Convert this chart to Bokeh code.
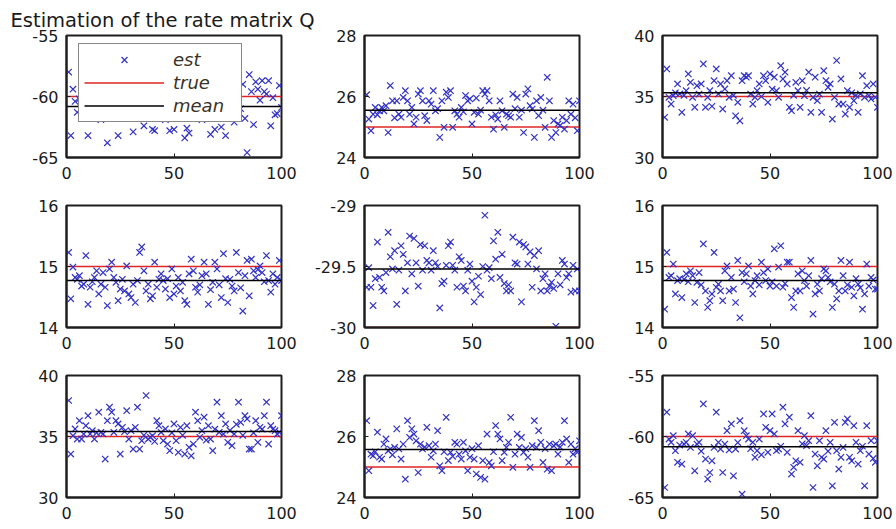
from bokeh.plotting import figure
from bokeh.models import FixedTicker, LinearAxis, Legend
from bokeh.layouts import column, row
from bokeh.embed import file_html
from bokeh.resources import INLINE

# ---------------- data ----------------
title_text = "Estimation of the rate matrix Q"
legend_labels = ["est", "true", "mean"]

x_idx = list(range(1, 101))
x_lim = [0, 100]
x_ticks = [0, 50, 100]

est_11 = [-58.0, -63.2, -59.4, -60.4, -61.3, -60.2, -61.5, -59.8, -60.9, -63.2,
          -61.8, -60.5, -59.3, -61.1, -60.0, -61.9, -60.6, -59.9, -63.8, -61.2,
          -60.4, -59.6, -61.7, -63.2, -60.8, -61.4, -59.2, -60.1, -61.6, -60.7,
          -62.9, -59.9, -61.0, -60.3, -61.8, -62.4, -60.5, -59.5, -61.3, -62.7,
          -62.8, -60.2, -61.5, -59.8, -60.9, -61.9, -60.4, -62.8, -61.1, -62.7,
          -60.0, -59.4, -61.7, -60.6, -63.4, -62.6, -63.0, -61.2, -60.1, -59.7,
          -61.4, -60.8, -61.9, -60.3, -59.6, -61.0, -63.1, -60.6, -62.7, -61.5,
          -60.2, -62.5, -59.9, -63.2, -61.3, -60.7, -61.8, -62.1, -60.4, -59.5,
          -61.0, -59.0, -61.8, -64.6, -58.2, -59.6, -62.3, -58.8, -59.4, -60.3,
          -58.7, -59.6, -59.8, -58.7, -62.4, -60.1, -61.5, -61.4, -59.1, -60.9]

est_12 = [26.06, 25.26, 24.88, 25.42, 25.64, 25.40, 25.53, 25.64, 25.53, 25.70,
          24.82, 26.36, 25.86, 25.30, 25.86, 25.42, 25.32, 25.97, 26.19, 25.86,
          25.42, 25.64, 25.10, 25.32, 26.08, 26.19, 25.86, 25.37, 25.21, 25.86,
          25.75, 26.19, 25.53, 25.60, 24.66, 25.86, 24.99, 26.14, 25.97, 26.19,
          24.99, 25.53, 25.42, 25.32, 25.64, 25.50, 26.03, 25.86, 25.92, 25.10,
          25.48, 25.95, 25.42, 25.55, 26.19, 26.08, 26.19, 25.86, 25.32, 24.93,
          25.40, 25.26, 25.86, 25.53, 24.99, 25.42, 25.37, 25.32, 26.08, 25.60,
          25.97, 25.32, 25.55, 24.82, 26.08, 26.25, 25.70, 25.59, 24.66, 25.86,
          25.37, 25.97, 25.55, 24.99, 26.63, 25.86, 24.66, 25.21, 24.82, 25.10,
          25.05, 25.32, 24.93, 25.21, 25.86, 25.42, 25.75, 25.30, 24.88, 25.86]

est_13 = [33.29, 37.26, 34.93, 34.38, 35.07, 35.30, 36.03, 35.21, 33.70, 35.10,
          35.48, 36.85, 36.16, 34.93, 34.11, 35.89, 35.20, 36.03, 37.67, 34.11,
          34.93, 35.48, 34.20, 36.30, 37.26, 35.21, 36.03, 33.97, 35.62, 36.30,
          34.93, 36.71, 35.10, 33.42, 34.52, 33.01, 36.30, 36.71, 36.58, 36.71,
          35.20, 34.38, 34.93, 35.48, 36.03, 35.00, 36.71, 36.30, 34.52, 36.85,
          35.60, 36.58, 35.48, 34.93, 37.53, 36.44, 36.99, 36.03, 34.11, 33.84,
          35.10, 36.16, 35.48, 34.11, 36.30, 35.07, 35.50, 36.99, 33.70, 34.93,
          36.58, 34.66, 35.20, 33.70, 37.12, 36.30, 35.75, 36.03, 33.15, 34.93,
          37.95, 34.38, 36.44, 34.38, 33.56, 35.48, 34.11, 35.30, 34.66, 35.10,
          33.70, 35.21, 36.71, 34.93, 35.89, 35.07, 34.80, 36.03, 34.93, 34.11]

est_21 = [15.23, 14.47, 14.99, 14.82, 14.79, 14.85, 14.68, 14.71, 15.18, 14.38,
          14.66, 14.75, 14.82, 14.93, 14.55, 14.71, 14.90, 14.66, 14.36, 14.96,
          15.07, 14.82, 14.74, 14.44, 14.63, 14.79, 14.60, 15.01, 14.55, 14.49,
          14.71, 14.41, 14.77, 15.23, 15.32, 14.93, 14.60, 14.71, 14.47, 14.52,
          15.07, 14.66, 14.79, 14.88, 14.77, 14.63, 14.80, 14.49, 14.96, 14.55,
          14.68, 14.82, 14.60, 14.74, 14.44, 14.38, 14.88, 15.12, 14.93, 14.66,
          14.58, 14.70, 14.85, 15.07, 14.88, 14.38, 14.62, 14.74, 15.07, 14.96,
          14.70, 14.49, 15.21, 14.80, 14.41, 14.79, 14.68, 14.60, 15.23, 14.90,
          14.65, 14.27, 14.85, 15.10, 14.52, 15.12, 14.93, 14.82, 14.95, 15.01,
          14.90, 14.75, 15.18, 14.77, 14.58, 14.88, 14.71, 14.82, 15.10, 14.77]

est_22 = [-29.67, -29.51, -29.67, -29.82, -29.60, -29.30, -29.59, -29.67, -29.70, -29.55,
          -29.22, -29.42, -29.52, -29.37, -29.81, -29.53, -29.33, -29.40, -29.70, -29.47,
          -29.25, -29.56, -29.27, -29.47, -29.66, -29.32, -29.53, -29.33, -29.45, -29.47,
          -29.53, -29.37, -29.47, -29.50, -29.84, -29.64, -29.62, -29.49, -29.33, -29.30,
          -29.49, -29.53, -29.67, -29.42, -29.45, -29.66, -29.70, -29.53, -29.48, -29.62,
          -29.79, -29.67, -29.58, -29.73, -29.50, -29.08, -29.53, -29.51, -29.60, -29.29,
          -29.44, -29.22, -29.59, -29.40, -29.64, -29.70, -29.65, -29.70, -29.26, -29.47,
          -29.48, -29.30, -29.79, -29.32, -29.34, -29.48, -29.38, -29.67, -29.41, -29.52,
          -29.37, -29.70, -29.60, -29.56, -29.70, -29.66, -29.63, -29.68, -29.99, -29.56,
          -29.65, -29.45, -29.48, -29.59, -29.56, -29.71, -29.49, -29.70, -29.52, -29.70]

est_23 = [14.30, 15.23, 14.82, 14.85, 15.04, 14.55, 14.77, 14.80, 14.49, 14.79,
          14.88, 14.75, 14.93, 14.85, 14.41, 14.74, 14.90, 14.70, 15.37, 14.60,
          14.33, 14.44, 14.55, 15.23, 14.66, 14.71, 14.60, 14.44, 14.93, 15.01,
          14.60, 14.82, 14.63, 14.41, 15.10, 14.16, 14.90, 14.75, 14.88, 15.01,
          14.68, 14.55, 14.77, 14.85, 14.70, 15.07, 14.90, 14.77, 14.96, 14.68,
          14.75, 15.29, 14.68, 14.99, 15.34, 14.66, 14.72, 15.07, 15.07, 14.49,
          14.33, 14.60, 14.88, 14.60, 14.93, 14.77, 14.68, 14.85, 15.10, 14.22,
          14.55, 14.71, 14.60, 14.80, 14.96, 14.93, 14.82, 14.75, 14.33, 14.71,
          14.47, 14.60, 15.10, 14.85, 14.60, 14.70, 15.07, 14.66, 14.52, 14.80,
          14.71, 14.65, 14.30, 14.55, 15.04, 14.68, 14.82, 14.78, 14.63, 14.63]

est_31 = [37.95, 33.56, 35.07, 35.62, 34.79, 36.30, 34.79, 35.20, 35.89, 36.71,
          35.21, 35.48, 34.79, 35.30, 36.99, 35.34, 35.21, 33.15, 36.30, 37.40,
          36.99, 35.34, 36.30, 36.03, 33.56, 35.75, 35.40, 37.12, 34.79, 35.48,
          33.97, 35.75, 37.40, 33.97, 34.66, 35.10, 38.36, 34.79, 34.93, 35.07,
          34.60, 36.30, 35.89, 35.34, 34.66, 35.62, 34.38, 33.84, 35.30, 36.03,
          34.66, 33.70, 35.75, 35.10, 33.56, 35.89, 34.11, 33.42, 34.38, 36.99,
          36.30, 34.93, 35.48, 36.58, 34.70, 35.89, 34.79, 33.84, 35.60, 37.81,
          35.34, 36.71, 35.20, 36.03, 34.52, 35.50, 34.25, 35.21, 36.00, 37.81,
          36.16, 35.10, 36.71, 36.44, 33.97, 33.97, 35.30, 36.30, 34.52, 35.75,
          35.60, 36.71, 37.81, 34.38, 35.89, 35.60, 35.48, 35.20, 35.34, 36.71]

est_32 = [26.52, 24.88, 25.42, 25.37, 25.50, 26.14, 25.32, 25.26, 25.75, 25.92,
          25.53, 25.59, 25.40, 25.64, 26.25, 25.59, 25.26, 25.75, 24.60, 26.52,
          25.97, 26.25, 26.08, 25.86, 24.82, 25.75, 25.59, 25.65, 26.30, 25.70,
          25.32, 25.53, 25.75, 26.19, 25.04, 24.88, 25.50, 26.63, 25.21, 25.48,
          25.35, 25.81, 25.75, 25.42, 25.26, 25.81, 25.53, 24.88, 25.32, 25.60,
          25.26, 24.77, 25.70, 24.66, 25.21, 24.60, 26.08, 25.15, 25.04, 25.50,
          26.36, 26.08, 25.92, 25.21, 25.48, 25.64, 25.81, 26.63, 24.99, 25.42,
          26.08, 25.64, 25.97, 25.48, 25.60, 25.32, 24.99, 25.70, 26.52, 25.64,
          26.19, 25.81, 25.15, 25.60, 24.93, 25.75, 24.88, 25.70, 25.75, 25.42,
          25.65, 25.81, 26.52, 25.92, 25.15, 25.75, 25.42, 25.60, 25.48, 25.86]

est_33 = [-64.18, -58.01, -60.21, -60.48, -59.93, -61.16, -62.12, -60.70, -62.26, -60.62,
          -60.48, -59.79, -60.90, -59.93, -62.81, -60.62, -60.48, -61.20, -57.33, -61.85,
          -63.49, -62.95, -61.99, -60.90, -58.01, -60.48, -61.03, -62.95, -60.62, -59.52,
          -61.10, -58.97, -63.22, -61.03, -60.50, -58.70, -64.73, -59.52, -59.93, -60.21,
          -61.00, -60.48, -61.71, -61.16, -60.21, -61.50, -58.15, -59.25, -61.30, -59.52,
          -58.15, -59.79, -61.16, -61.03, -60.80, -57.60, -58.97, -61.30, -58.42, -63.08,
          -62.53, -61.99, -59.52, -62.12, -60.60, -59.93, -60.75, -60.34, -58.29, -64.18,
          -61.44, -62.40, -60.34, -61.71, -61.85, -59.52, -61.20, -60.48, -64.04, -58.84,
          -61.16, -62.67, -61.71, -60.90, -58.84, -58.56, -61.71, -62.00, -59.11, -60.48,
          -62.26, -61.16, -60.80, -64.04, -59.11, -61.44, -60.34, -61.80, -62.12, -60.34]

est_all = [est_11, est_12, est_13, est_21, est_22, est_23, est_31, est_32, est_33]
true_vals = [-60, 25, 35, 15, -30, 15, 35, 25, -60]
mean_vals = [-60.82, 25.55, 35.30, 14.77, -29.52, 14.77, 35.42, 25.57, -60.85]
y_lims = [(-65, -55), (24, 28), (30, 40), (14, 16), (-30, -29), (14, 16),
          (30, 40), (24, 28), (-65, -55)]
y_ticks = [[-65, -60, -55], [24, 26, 28], [30, 35, 40], [14, 15, 16], [-30, -29.5, -29],
           [14, 15, 16], [30, 35, 40], [24, 26, 28], [-65, -60, -55]]
y_tick_labels = [["-65", "-60", "-55"], ["24", "26", "28"], ["30", "35", "40"],
                 ["14", "15", "16"], ["-30", "-29.5", "-29"], ["14", "15", "16"],
                 ["30", "35", "40"], ["24", "26", "28"], ["-65", "-60", "-55"]]

# ---------------- style ----------------
FONT = "DejaVu Sans"
BLUE = "#3232c8"
RED = "#e02525"
BLACK = "#000000"
AX = "#1e1e1e"
TXT = "#1a1a1a"
FRAME_W = 215
FRAME_H = 122
BOTTOM = 30


def style_axis(ax, ticks, labels=None):
    ax.ticker = FixedTicker(ticks=ticks)
    ax.major_tick_in = 4
    ax.major_tick_out = 0
    ax.minor_tick_line_color = None
    ax.axis_line_color = AX
    ax.axis_line_width = 2
    ax.major_tick_line_color = AX
    ax.major_tick_line_width = 1
    ax.major_label_text_font = FONT
    ax.major_label_text_font_size = "16px"
    ax.major_label_text_color = TXT
    if labels is not None:
        ax.major_label_overrides = {t: l for t, l in zip(ticks, labels)}


def make_panel(k, top_border, left_border=66, right_border=17):
    h = top_border + FRAME_H + BOTTOM
    w = left_border + FRAME_W + right_border
    p = figure(width=w, height=h, x_range=(x_lim[0], x_lim[1]), y_range=y_lims[k],
               toolbar_location=None, output_backend="svg",
               x_axis_type=None, y_axis_type=None,
               min_border_left=left_border, min_border_right=right_border,
               min_border_top=top_border, min_border_bottom=BOTTOM)
    p.outline_line_color = AX
    p.outline_line_width = 2
    p.background_fill_color = "white"
    p.border_fill_color = "white"

    xb = LinearAxis()
    style_axis(xb, x_ticks)
    xb.major_label_standoff = 9
    p.add_layout(xb, "below")

    yl = LinearAxis()
    style_axis(yl, y_ticks[k], y_tick_labels[k])
    yl.major_label_standoff = 8
    p.add_layout(yl, "left")

    r_true = p.line(x_lim, [true_vals[k]] * 2, line_color=RED, line_width=1.5,
                    level="underlay")
    r_est = p.scatter(x_idx, est_all[k], marker="x", size=9, line_color=BLUE,
                      line_width=1.2)
    r_mean = p.line(x_lim, [mean_vals[k]] * 2, line_color=BLACK, line_width=1.5)

    if k == 0:
        legend = Legend(items=[(legend_labels[0], [r_est]),
                               (legend_labels[1], [r_true]),
                               (legend_labels[2], [r_mean])],
                        location=(12, 35))
        legend.padding = 5
        legend.spacing = 2
        legend.margin = 0
        legend.glyph_width = 80
        legend.glyph_height = 21
        legend.label_standoff = 9
        legend.label_width = 63
        legend.label_text_font = FONT
        legend.label_text_font_style = "italic"
        legend.label_text_font_size = "18px"
        legend.label_text_color = "#3a3226"
        legend.border_line_color = "#111111"
        legend.border_line_width = 1
        legend.background_fill_color = "white"
        legend.background_fill_alpha = 1.0
        p.add_layout(legend)

        # overall title in the top border of the first panel
        p.title.text = title_text
        p.title.align = "left"
        p.title.offset = 10 - left_border
        p.title.standoff = 7
        p.title.text_font = FONT
        p.title.text_font_size = "19.5px"
        p.title.text_font_style = "normal"
        p.title.text_color = TXT
    return p


panels = []
# first row: the first panel is wider so that the title fits in its canvas
panels.append(make_panel(0, 35, left_border=66, right_border=49))
panels.append(make_panel(1, 35, left_border=34, right_border=17))
panels.append(make_panel(2, 35))
for k in range(3, 9):
    panels.append(make_panel(k, 18))

layout = column(row(panels[0], panels[1], panels[2]),
                row(panels[3], panels[4], panels[5]),
                row(panels[6], panels[7], panels[8]))

open("out.html", "w").write(file_html(layout, INLINE))
